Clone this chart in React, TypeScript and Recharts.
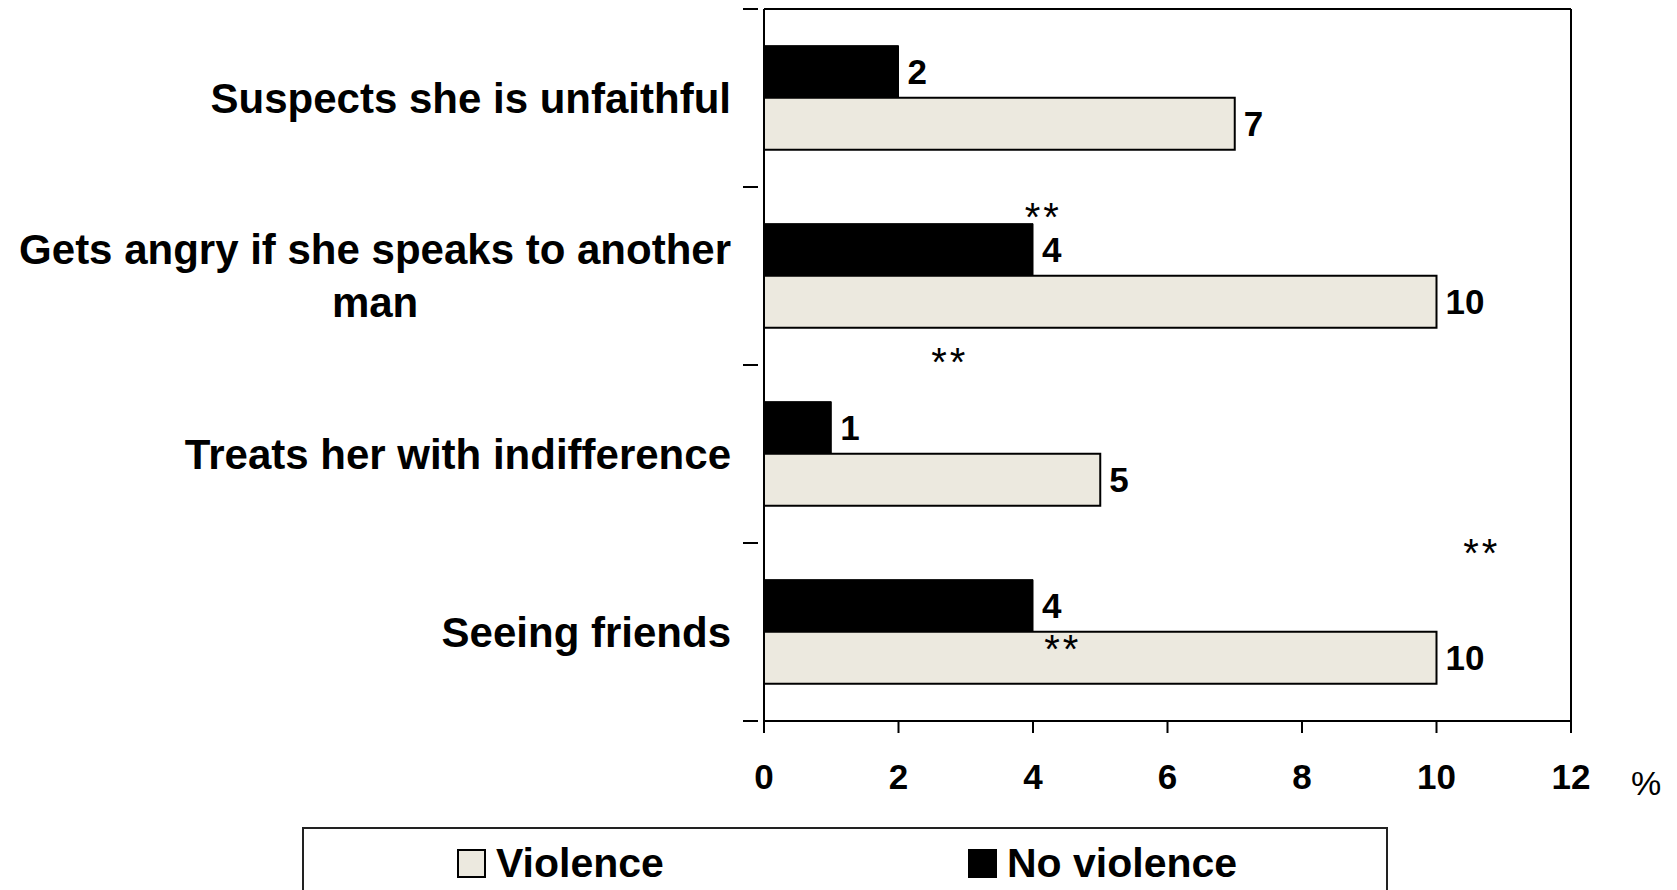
import React from 'react';
import { BarChart, Bar, XAxis, YAxis, CartesianGrid, LabelList, ReferenceDot } from 'recharts';

const categories = [
  'Suspects she is unfaithful',
  'Gets angry if she speaks to another man',
  'Treats her with indifference',
  'Seeing friends',
];
const violence = [7, 10, 5, 10];
const noViolence = [2, 4, 1, 4];
const xTicks = [0, 2, 4, 6, 8, 10, 12];

// the "**" marks scattered over the plot: x in %, category, shift from band centre (px)
const marks = [
  { x: 4.13, cat: 1, dy: -63 },
  { x: 2.74, cat: 1, dy: 82 },
  { x: 10.65, cat: 3, dy: -83 },
  { x: 4.42, cat: 3, dy: 13 },
];

const data = categories.map((name, i) => ({ name, violence: violence[i], noViolence: noViolence[i] }));

const FONT = '"Liberation Sans", Arial, sans-serif';
const BEIGE = '#ECE9DF';
const CAT_SIZE = 42;
const CAT_MARGIN = 27;
const MAX_LABEL = 735;

let ctx: CanvasRenderingContext2D | null = null;
function textWidth(s: string) {
  if (!ctx) ctx = document.createElement('canvas').getContext('2d');
  if (!ctx) return s.length * CAT_SIZE * 0.55;
  ctx.font = `bold ${CAT_SIZE}px ${FONT}`;
  return ctx.measureText(s).width;
}

function wrap(s: string) {
  const words = s.split(' ');
  const lines: string[] = [];
  let cur = '';
  for (const w of words) {
    const next = cur ? cur + ' ' + w : w;
    if (cur && textWidth(next) > MAX_LABEL) {
      lines.push(cur);
      cur = w;
    } else {
      cur = next;
    }
  }
  if (cur) lines.push(cur);
  return lines;
}

function CategoryTick(props: any) {
  const { x, y, payload, index, visibleTicksCount } = props;
  const half = payload.offset || 0;
  const axisX = x + CAT_MARGIN;
  const lines = wrap(String(payload.value));
  const w = Math.max(...lines.map(textWidth));
  const cx = x - w / 2;
  const lh = 53;
  return (
    <g>
      <line x1={axisX - 15} x2={axisX} y1={y - half} y2={y - half} stroke="#000" strokeWidth={2} />
      {index === visibleTicksCount - 1 && (
        <line x1={axisX - 15} x2={axisX} y1={y + half} y2={y + half} stroke="#000" strokeWidth={2} />
      )}
      <text textAnchor="middle" fontSize={CAT_SIZE} fontWeight="bold" fill="#000" fontFamily={FONT}>
        {lines.map((l, i) => (
          <tspan key={i} x={cx} y={y + (i - (lines.length - 1) / 2) * lh + CAT_SIZE * 0.355}>
            {l}
          </tspan>
        ))}
      </text>
    </g>
  );
}

const legendItems = [
  { name: 'Violence', fill: BEIGE, left: 457 },
  { name: 'No violence', fill: '#000', left: 968 },
];

export default function App() {
  return (
    <div
      style={{
        position: 'absolute',
        left: 0,
        top: 0,
        width: 1677,
        height: 890,
        overflow: 'hidden',
        background: '#fff',
        fontFamily: FONT,
      }}
    >
      <BarChart
        width={1677}
        height={890}
        data={data}
        layout="vertical"
        margin={{ top: 9, right: 106, left: 0, bottom: 69 }}
        barCategoryGap="20.6%"
        barGap={0}
      >
        <CartesianGrid
          stroke="#000"
          strokeWidth={2}
          fill="none"
          horizontalCoordinatesGenerator={({ offset }: any) => [offset.top]}
          verticalCoordinatesGenerator={({ offset }: any) => [offset.left + offset.width]}
        />
        <XAxis
          type="number"
          domain={[0, 12]}
          ticks={xTicks}
          interval={0}
          height={100}
          axisLine={{ stroke: '#000', strokeWidth: 2 }}
          tickLine={{ stroke: '#000', strokeWidth: 2 }}
          tickSize={12}
          tickMargin={31}
          tick={{ fill: '#000', fontSize: 35, fontWeight: 'bold', fontFamily: FONT }}
          label={{
            content: ({ viewBox }: any) => (
              <text
                x={viewBox.x + viewBox.width + 60}
                y={viewBox.y + 74}
                fontSize={34}
                fill="#000"
                fontFamily={FONT}
              >
                %
              </text>
            ),
          }}
        />
        <YAxis
          type="category"
          dataKey="name"
          width={764}
          axisLine={{ stroke: '#000', strokeWidth: 2 }}
          tickLine={false}
          tickMargin={CAT_MARGIN}
          interval={0}
          tick={<CategoryTick />}
        />
        <Bar dataKey="noViolence" name="No violence" fill="#000" stroke="#000" strokeWidth={1} isAnimationActive={false}>
          <LabelList dataKey="noViolence" position="right" offset={9} fill="#000" fontSize={35} fontWeight="bold" fontFamily={FONT} />
        </Bar>
        <Bar dataKey="violence" name="Violence" fill={BEIGE} stroke="#000" strokeWidth={2} isAnimationActive={false}>
          <LabelList dataKey="violence" position="right" offset={9} fill="#000" fontSize={35} fontWeight="bold" fontFamily={FONT} />
        </Bar>
        {marks.map((m, i) => (
          <ReferenceDot
            key={i}
            x={m.x}
            y={categories[m.cat]}
            r={0}
            isFront
            shape={(p: any) => (
              <text
                x={p.cx + 1.5}
                y={p.cy + m.dy + 18}
                textAnchor="middle"
                fontSize={40}
                letterSpacing={3}
                fill="#000"
                fontFamily={FONT}
              >
                **
              </text>
            )}
          />
        ))}
      </BarChart>
      <div
        style={{
          position: 'absolute',
          left: 302,
          top: 827,
          width: 1086,
          height: 120,
          border: '2px solid #222',
          boxSizing: 'border-box',
        }}
      />
      {legendItems.map((it) => (
        <div
          key={it.name}
          style={{
            position: 'absolute',
            left: it.left,
            top: 840,
            height: 46,
            display: 'flex',
            alignItems: 'center',
            fontSize: 41,
            fontWeight: 'bold',
            color: '#000',
            whiteSpace: 'nowrap',
          }}
        >
          <span
            style={{
              display: 'inline-block',
              width: 29,
              height: 29,
              background: it.fill,
              border: '2px solid #000',
              boxSizing: 'border-box',
              marginRight: 10,
            }}
          />
          {it.name}
        </div>
      ))}
    </div>
  );
}
